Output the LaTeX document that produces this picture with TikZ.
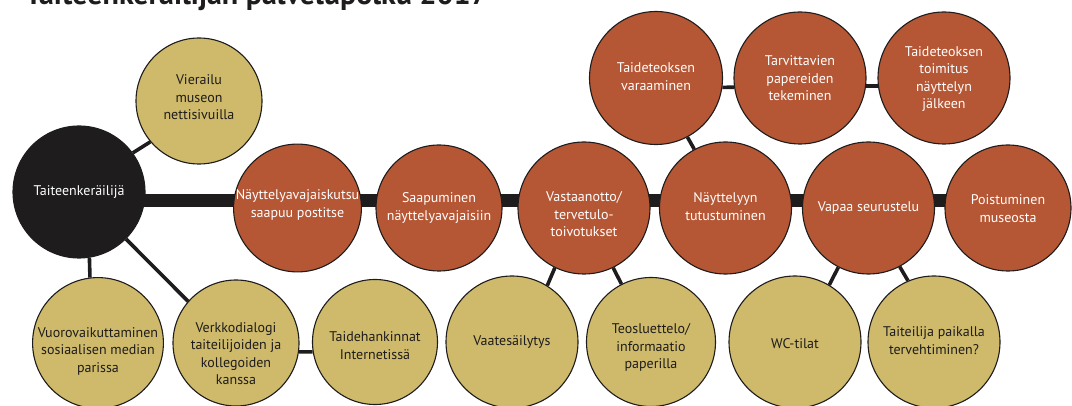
\documentclass[tikz,border=0pt]{standalone}
\usepackage{fontspec}
\setmainfont{PT Sans}
\usetikzlibrary{backgrounds}
\definecolor{rust}{RGB}{181,86,52}
\definecolor{sand}{RGB}{206,186,106}
\definecolor{ink}{RGB}{30,28,28}
\newcommand\bubtxt[2][0pt]{\raisebox{-#1}[\height][\depth]{\begin{tabular}{@{}c@{}}#2\end{tabular}}}
\begin{document}
\begin{tikzpicture}[x=1pt,y=-1pt,
  bub/.style={circle, draw=ink, line width=1.1pt, inner sep=0pt, font=\fontsize{14}{17.5}\selectfont},
  rbub/.style={bub, fill=rust, text=white},
  gbub/.style={bub, fill=sand, text=ink},
  kbub/.style={bub, fill=ink, text=white},
  conn/.style={draw=ink, line width=3.6pt},
  spine/.style={draw=ink, line width=13pt}]
\useasboundingbox (0,0) rectangle (1072,406);
\clip (0,0) rectangle (1072,406);
\node[anchor=base west, font=\fontsize{30}{34}\selectfont\bfseries, text=ink, inner sep=0pt] (title) at (25,5) {Taiteenkeräilijän palvelupolku 2017};

% main actor
\node[kbub, minimum size=132pt] (col) at (79,192) {\bubtxt{Taiteenkeräilijä}};
\node[gbub, minimum size=126pt] (vier) at (199,101) {\bubtxt[-2pt]{Vierailu\\museon\\nettisivuilla}};

% middle row
\node[rbub, minimum size=126pt] (kutsu) at (297.5,208) {\bubtxt[-3pt]{Näyttelyavajaiskutsu\\saapuu postitse}};
\node[rbub, minimum size=126pt] (saap) at (439,208) {\bubtxt{Saapuminen\\näyttelyavajaisiin}};
\node[rbub, minimum size=132pt] (vast) at (584,208) {\bubtxt[8pt]{Vastaanotto/\\tervetulo-\\toivotukset}};
\node[rbub, minimum size=132pt] (tutu) at (725.5,208) {\bubtxt{Näyttelyyn\\tutustuminen}};
\node[rbub, minimum size=132pt] (vapa) at (868.5,208) {\bubtxt{Vapaa seurustelu}};
\node[rbub, minimum size=126pt] (pois) at (1008,208) {\bubtxt[2pt]{Poistuminen\\museosta}};

% top row
\node[rbub, minimum size=133pt] (vara) at (656,78) {\bubtxt{Taideteoksen\\varaaminen}};
\node[rbub, minimum size=132pt] (tarv) at (800,78) {\bubtxt[2pt]{Tarvittavien\\papereiden\\tekeminen}};
\node[rbub, minimum size=132pt] (toim) at (944,78) {\bubtxt[1pt]{Taideteoksen\\toimitus\\näyttelyn\\jälkeen}};

% bottom row
\node[gbub, minimum size=126pt] (vuor) at (98,343) {\bubtxt[8pt]{Vuorovaikuttaminen\\sosiaalisen median\\parissa}};
\node[gbub, minimum size=126pt] (verk) at (236,343) {\bubtxt[12pt]{Verkkodialogi\\taiteilijoiden ja\\kollegoiden\\kanssa}};
\node[gbub, minimum size=125pt] (taid) at (375,342) {\bubtxt[5pt]{Taidehankinnat\\Internetissä}};
\node[gbub, minimum size=132pt] (vaat) at (512,342) {\bubtxt{Vaatesäilytys}};
\node[gbub, minimum size=129pt] (teos) at (651,342) {\bubtxt[6pt]{Teosluettelo/\\informaatio\\paperilla}};
\node[gbub, minimum size=132pt] (wc) at (795,342) {\bubtxt[3pt]{WC-tilat}};
\node[gbub, minimum size=132pt] (tait) at (934,342) {\bubtxt{Taiteilija paikalla\\tervehtiminen?}};

\begin{scope}[on background layer]
  \draw[spine] ([yshift=-9pt]col.center) -- ([yshift=7pt]pois.center);
  \draw[conn] (col.36) -- (vier.220);
  \draw[conn] (col.-81) -- (vuor.97);
  \draw[conn] (col.-45) -- (verk.139);
  \draw[conn] (verk.-8) -- (taid.189);
  \draw[conn] (vast.-116) -- (vaat.58);
  \draw[conn] (vast.-64) -- (teos.117);
  \draw[conn] (vara.-62) -- (tutu.118);
  \draw[conn] (vara.-8) -- (tarv.188);
  \draw[conn] (tarv.-7) -- (toim.187);
  \draw[conn] (vapa.-117) -- (wc.59);
  \draw[conn] (vapa.-62) -- (tait.113);
\end{scope}
\end{tikzpicture}
\end{document}
